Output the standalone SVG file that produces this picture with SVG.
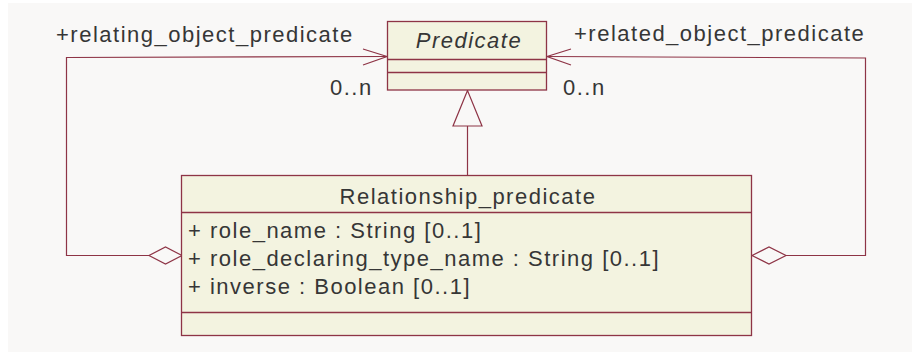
<svg xmlns="http://www.w3.org/2000/svg" width="912" height="352" viewBox="0 0 912 352">
  <style>
    text { font-family: "Liberation Sans", Arial, sans-serif; font-size: 22px; letter-spacing: 1.5px; fill: #363636; }
    .box { fill: #f3f3e0; stroke: #8e3446; stroke-width: 1.3; }
    .sep { stroke: #8e3446; stroke-width: 1.3; fill: none; }
    .conn { fill: none; stroke: #8e3446; stroke-width: 1.2; }
    .diamond { fill: #f9f8f7; stroke: #8e3446; stroke-width: 1.2; }
    .gen { fill: #f9f8f7; stroke: #8e3446; stroke-width: 1.2; }
  </style>
  <rect x="0" y="0" width="912" height="352" fill="#ffffff"/>
  <rect x="8" y="3" width="904" height="349" fill="#f9f8f7"/>

  <g id="connectors">
    <polyline class="conn" points="149,255.5 66.5,255.5 66.5,57.5 386,56.5"/>
    <polyline class="conn" points="363,49 387,56.5 363,65"/>
    <polygon class="diamond" points="182,255.5 165.5,247 149,255.5 165.5,264"/>
    <polyline class="conn" points="786,255.5 865.5,255.5 865.5,58 548,56.5"/>
    <polyline class="conn" points="571,49 547,56.5 571,65"/>
    <polygon class="diamond" points="752,255.5 769,247 786,255.5 769,264"/>
    <line class="conn" x1="467.5" y1="126" x2="467.5" y2="175.5"/>
    <polygon class="gen" points="467.5,90.5 453,126 482,126"/>
    <text x="56" y="42">+relating_object_predicate</text>
    <text x="330" y="95">0..n</text>
    <text x="574" y="41">+related_object_predicate</text>
    <text x="563" y="95">0..n</text>
  </g>

  <g id="predicate">
    <rect class="box" x="387.5" y="21.5" width="159" height="68.5"/>
    <line class="sep" x1="387.5" y1="59.5" x2="546.5" y2="59.5"/>
    <line class="sep" x1="387.5" y1="72.5" x2="546.5" y2="72.5"/>
    <text x="469" y="48" text-anchor="middle" font-style="italic">Predicate</text>
  </g>

  <g id="relationship_predicate">
    <rect class="box" x="181.5" y="175.5" width="570" height="160"/>
    <line class="sep" x1="181.5" y1="212.5" x2="751.5" y2="212.5"/>
    <line class="sep" x1="181.5" y1="312.5" x2="751.5" y2="312.5"/>
    <text x="468" y="204" text-anchor="middle">Relationship_predicate</text>
    <text x="188" y="238">+ role_name : String [0..1]</text>
    <text x="188" y="266">+ role_declaring_type_name : String [0..1]</text>
    <text x="188" y="293.5">+ inverse : Boolean [0..1]</text>
  </g>
</svg>
